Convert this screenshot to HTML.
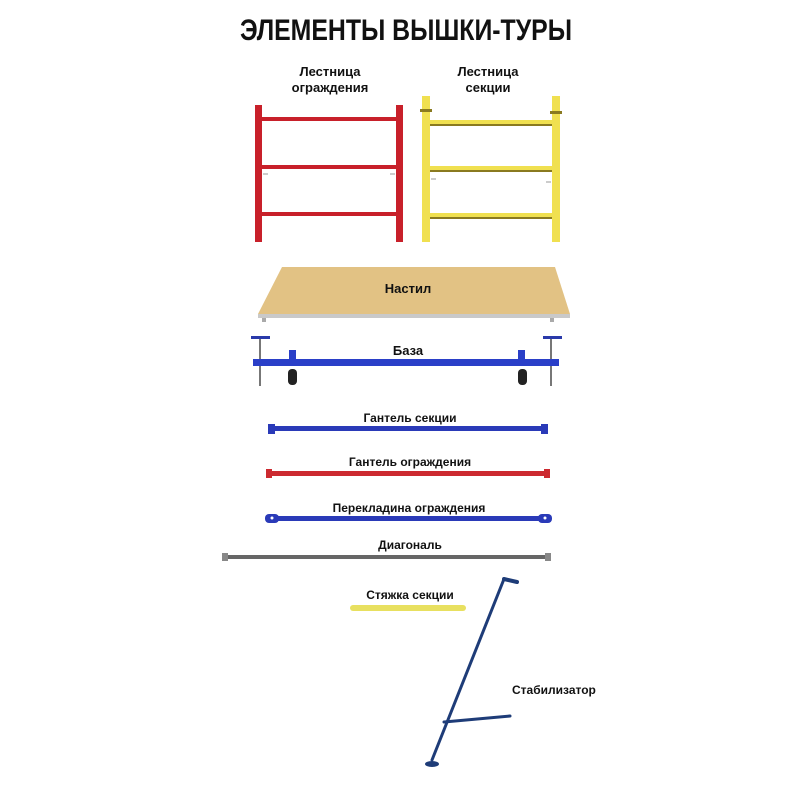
<!DOCTYPE html>
<html><head><meta charset="utf-8"><style>
html,body{margin:0;padding:0;background:#fff;width:800px;height:800px;overflow:hidden}
text{font-family:"Liberation Sans","DejaVu Sans",sans-serif;font-weight:bold;fill:#111}
</style></head><body>
<svg width="800" height="800" viewBox="0 0 800 800" xmlns="http://www.w3.org/2000/svg">
<text x="406" y="40" font-size="30" text-anchor="middle" textLength="332" lengthAdjust="spacingAndGlyphs">ЭЛЕМЕНТЫ ВЫШКИ-ТУРЫ</text>

<text x="330" y="76" font-size="13" text-anchor="middle">Лестница</text>
<text x="330" y="92" font-size="13" text-anchor="middle">ограждения</text>
<text x="488" y="76" font-size="13" text-anchor="middle">Лестница</text>
<text x="488" y="92" font-size="13" text-anchor="middle">секции</text>

<!-- red ladder -->
<g fill="#c8202a">
<rect x="255" y="105" width="7" height="137"/>
<rect x="396" y="105" width="7" height="137"/>
<rect x="262" y="117" width="134" height="4"/>
<rect x="262" y="165" width="134" height="4"/>
<rect x="262" y="212" width="134" height="4"/>
</g>
<g stroke="#999" stroke-width="1"><line x1="263" y1="174" x2="268" y2="174"/><line x1="390" y1="174" x2="395" y2="174"/></g>

<!-- yellow ladder -->
<g fill="#f0e050">
<rect x="422" y="96" width="8" height="146"/>
<rect x="552" y="96" width="8" height="146"/>
<rect x="430" y="120" width="122" height="5"/>
<rect x="430" y="166" width="122" height="5"/>
<rect x="430" y="213" width="122" height="5"/>
</g>
<g fill="#8a7a20"><rect x="430" y="124" width="122" height="2"/><rect x="430" y="170" width="122" height="2"/><rect x="430" y="217" width="122" height="2"/>
<rect x="420" y="109" width="12" height="3"/><rect x="550" y="111" width="12" height="3"/></g>
<g stroke="#999"><line x1="431" y1="179" x2="436" y2="179"/><line x1="546" y1="182" x2="551" y2="182"/></g>

<!-- deck -->
<polygon points="282,267 555,267 570,314 258,314" fill="#e2c284"/>
<rect x="258" y="314" width="312" height="4" fill="#c9c9c9"/>
<rect x="262" y="318" width="4" height="4" fill="#aaa"/><rect x="550" y="318" width="4" height="4" fill="#aaa"/>
<text x="408" y="293" font-size="13" text-anchor="middle">Настил</text>

<!-- base -->
<text x="408" y="355" font-size="13" text-anchor="middle">База</text>
<g stroke="#777" stroke-width="2"><line x1="260" y1="338" x2="260" y2="386"/><line x1="551" y1="338" x2="551" y2="386"/></g>
<g fill="#2a3aaa"><rect x="251" y="336" width="19" height="3"/><rect x="543" y="336" width="19" height="3"/></g>
<rect x="253" y="359" width="306" height="7" fill="#2a3fc8"/>
<rect x="289" y="350" width="7" height="10" fill="#2a3fc8"/><rect x="518" y="350" width="7" height="10" fill="#2a3fc8"/>
<rect x="288" y="369" width="9" height="16" rx="4" fill="#222"/><rect x="518" y="369" width="9" height="16" rx="4" fill="#222"/>

<!-- bars -->
<text x="410" y="422" font-size="12" text-anchor="middle">Гантель секции</text>
<rect x="272" y="426" width="272" height="5" fill="#2a3ab8"/>
<rect x="268" y="424" width="7" height="10" fill="#2a3ab8"/><rect x="541" y="424" width="7" height="10" fill="#2a3ab8"/>

<text x="410" y="466" font-size="12" text-anchor="middle">Гантель ограждения</text>
<rect x="270" y="471" width="276" height="5" fill="#cc2a30"/>
<rect x="266" y="469" width="6" height="9" fill="#cc2a30"/><rect x="544" y="469" width="6" height="9" fill="#cc2a30"/>

<text x="409" y="512" font-size="12" text-anchor="middle">Перекладина ограждения</text>
<rect x="268" y="516" width="282" height="5" rx="2" fill="#2a3ab8"/>
<rect x="265" y="514" width="14" height="9" rx="4" fill="#2a3ab8"/><rect x="538" y="514" width="14" height="9" rx="4" fill="#2a3ab8"/>
<circle cx="272" cy="518" r="1.5" fill="#fff"/><circle cx="545" cy="518" r="1.5" fill="#fff"/>

<text x="410" y="549" font-size="12" text-anchor="middle">Диагональ</text>
<rect x="224" y="555" width="326" height="4" fill="#666"/>
<rect x="222" y="553" width="6" height="8" fill="#888"/><rect x="545" y="553" width="6" height="8" fill="#888"/>

<text x="410" y="599" font-size="12" text-anchor="middle">Стяжка секции</text>
<rect x="350" y="605" width="116" height="6" rx="3" fill="#e8e060"/>

<!-- stabilizer -->
<g stroke="#1e3c78" stroke-linecap="round">
<line x1="504" y1="579" x2="432" y2="760" stroke-width="3"/>
<line x1="504" y1="579" x2="517" y2="582" stroke-width="4"/>
<line x1="444" y1="722" x2="510" y2="716" stroke-width="3"/>
</g>
<ellipse cx="432" cy="764" rx="7" ry="3" fill="#1e3c78"/>
<text x="512" y="694" font-size="12">Стабилизатор</text>
</svg>
</body></html>
